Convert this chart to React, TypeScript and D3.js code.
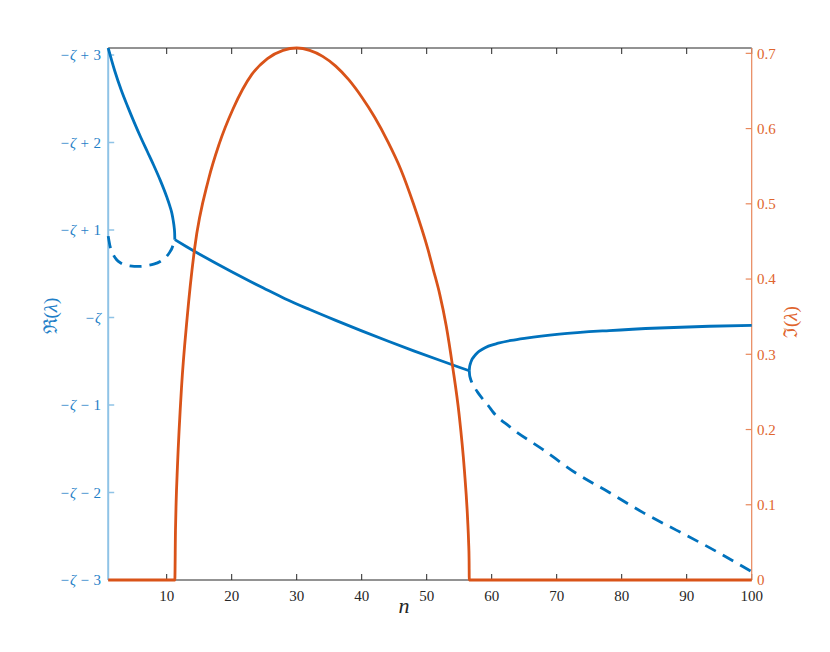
import React from "react";
import * as d3 from "d3";

// ---- data ----
// real part offsets relative to -ζ, left axis
const nUpperPre = [1, 2, 3, 4, 5, 6, 7, 8, 9, 10, 10.5, 10.8, 11, 11.15, 11.22, 11.25];
const reUpperPre = [3.08, 2.82, 2.6, 2.41, 2.23, 2.06, 1.9, 1.74, 1.57, 1.38, 1.27, 1.19, 1.11, 1.03, 0.97, 0.89];

const nLowerPre = [1, 1.3, 1.7, 2.3, 3, 4, 5, 6, 7, 8, 9, 10, 10.5, 10.8, 11, 11.15, 11.25];
const reLowerPre = [0.93, 0.81, 0.73, 0.66, 0.62, 0.595, 0.585, 0.585, 0.595, 0.61, 0.64, 0.7, 0.75, 0.79, 0.83, 0.86, 0.89];

const nComplex = [11.25, 13, 15, 17.5, 20, 22.8, 25, 28.2, 32, 36, 40, 44, 48, 52, 55, 56.55];
const reComplex = [0.89, 0.812, 0.726, 0.622, 0.522, 0.414, 0.332, 0.215, 0.091, -0.033, -0.153, -0.269, -0.381, -0.489, -0.568, -0.608];

const nUpperPost = [56.55, 56.6, 56.7, 56.9, 57.3, 57.8, 58.5, 59.5, 61, 63, 65.3, 70.4, 78.1, 85.8, 93.5, 100];
const reUpperPost = [-0.608, -0.565, -0.533, -0.49, -0.445, -0.403, -0.366, -0.327, -0.294, -0.262, -0.235, -0.19, -0.149, -0.12, -0.1, -0.091];

const nLowerPost = [56.55, 56.6, 56.7, 56.9, 57.3, 57.8, 58.5, 59.5, 60.2, 62.8, 67.9, 73, 78.1, 83.3, 88.4, 93.5, 100];
const reLowerPost = [-0.608, -0.655, -0.69, -0.735, -0.79, -0.85, -0.92, -1.01, -1.08, -1.25, -1.51, -1.78, -2.0, -2.23, -2.43, -2.63, -2.905];

// imaginary part, right axis
const nImag = [1, 11.25, 11.35, 11.45, 11.65, 12.28, 13.14, 14.3, 16.45, 18.05, 20.2, 23.1, 25.5, 27.9, 30, 32, 34, 36, 38, 40, 42, 44, 46, 48, 50.2, 51, 52, 53, 54, 55, 55.8, 56.3, 56.45, 56.52, 56.55, 100];
const imImag = [0, 0, 0.066, 0.103, 0.15, 0.256, 0.348, 0.441, 0.533, 0.579, 0.626, 0.672, 0.693, 0.704, 0.7071, 0.704, 0.696, 0.683, 0.665, 0.642, 0.615, 0.583, 0.546, 0.499, 0.439, 0.413, 0.38, 0.338, 0.283, 0.219, 0.146, 0.08, 0.05, 0.028, 0, 0];

const xTicks = [10, 20, 30, 40, 50, 60, 70, 80, 90, 100];
const leftTicks = [-3, -2, -1, 0, 1, 2, 3];
const rightTicks = [0, 0.1, 0.2, 0.3, 0.4, 0.5, 0.6, 0.7];
const rightTickLabels = ["0", "0.1", "0.2", "0.3", "0.4", "0.5", "0.6", "0.7"];

const BLUE = "#0072BD";
const ORANGE = "#D95319";

export default function App() {
  const L = 108.2, R = 751.7, T = 48, B = 580;
  const x = d3.scaleLinear().domain([1, 100]).range([L, R]);
  const yL = d3.scaleLinear().domain([-3, 3.08]).range([B, T]);
  const yR = d3.scaleLinear().domain([0, 0.7071]).range([B, T]);

  const mk = (ns: number[], vs: number[], ys: d3.ScaleLinear<number, number>) =>
    d3.line<number>().x((_, i) => x(ns[i])).y((v) => ys(v)).curve(d3.curveMonotoneX)(vs) || "";

  const font = "'Liberation Serif', 'DejaVu Serif', serif";

  return (
    <svg width={830} height={652} style={{ position: "absolute", left: 0, top: 0, background: "#fff" }} fontFamily={font}>
      <rect x={0} y={0} width={830} height={652} fill="#fff" />
      {/* top & bottom frame */}
      <line x1={L} x2={R} y1={T} y2={T} stroke="#262626" strokeWidth={1} />
      <line x1={L} x2={R} y1={B} y2={B} stroke="#262626" strokeWidth={1} />
      {xTicks.map((t) => (
        <g key={"xt" + t}>
          <line x1={x(t)} x2={x(t)} y1={B} y2={B - 6} stroke="#262626" strokeWidth={1} />
          <line x1={x(t)} x2={x(t)} y1={T} y2={T + 6} stroke="#262626" strokeWidth={1} />
          <text x={x(t)} y={601} textAnchor="middle" fontSize={15} fill="#262626">{t}</text>
        </g>
      ))}
      <text x={404} y={613} textAnchor="middle" fontSize={22} fontStyle="italic" fill="#262626">n</text>

      {/* left axis */}
      <line x1={L} x2={L} y1={T} y2={B} stroke="#8fc3e6" strokeWidth={2} />
      {leftTicks.map((t) => (
        <g key={"lt" + t}>
          <line x1={L} x2={L + 6} y1={yL(t)} y2={yL(t)} stroke="#8fc3e6" strokeWidth={1.5} />
          <text x={101} y={yL(t)} dy="0.35em" textAnchor="end" fontSize={15} fill="#1f7fc8">
            {"\u2212"}
            <tspan dx={1} fontStyle="italic">{"\u03B6"}</tspan>
            {t !== 0 ? <tspan dx={4.5}>{t > 0 ? "+" : "\u2212"}</tspan> : null}
            {t !== 0 ? <tspan dx={4.5}>{String(Math.abs(t))}</tspan> : null}
          </text>
        </g>
      ))}
      <text transform={`translate(57,316) rotate(-90)`} textAnchor="middle" fontSize={19} fill="#1f7fc8">
        {"\u211C("}
        <tspan fontStyle="italic">{"\u03BB"}</tspan>
        {")"}
      </text>

      {/* right axis */}
      <line x1={R} x2={R} y1={T} y2={B} stroke="#e8875a" strokeWidth={1.2} />
      {rightTicks.map((t, i) => (
        <g key={"rt" + t}>
          <line x1={R} x2={R - 6} y1={yR(t)} y2={yR(t)} stroke="#e8875a" strokeWidth={1.2} />
          <text x={757} y={yR(t)} dy="0.35em" textAnchor="start" fontSize={15} fill="#e0652e">{rightTickLabels[i]}</text>
        </g>
      ))}
      <text transform={`translate(797,322) rotate(-90)`} textAnchor="middle" fontSize={19} fill="#e0652e">
        {"\u2111("}
        <tspan fontStyle="italic">{"\u03BB"}</tspan>
        {")"}
      </text>

      {/* blue curves */}
      <g fill="none" stroke={BLUE} strokeWidth={2.8} strokeLinejoin="round">
        <path d={mk(nUpperPre, reUpperPre, yL)} />
        <path d={mk(nLowerPre, reLowerPre, yL)} strokeDasharray="12,8" />
        <path d={mk(nComplex, reComplex, yL)} />
        <path d={mk(nUpperPost, reUpperPost, yL)} />
        <path d={mk(nLowerPost, reLowerPost, yL)} strokeDasharray="12,8" />
      </g>
      {/* orange curve */}
      <path d={mk(nImag, imImag, yR)} fill="none" stroke={ORANGE} strokeWidth={2.8} strokeLinejoin="round" />
    </svg>
  );
}
